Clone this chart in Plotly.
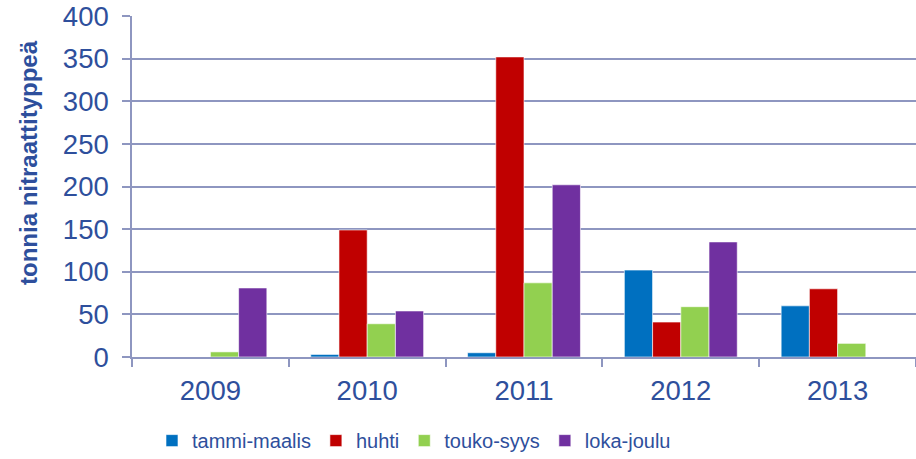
import plotly.graph_objects as go

years = ["2009", "2010", "2011", "2012", "2013"]
series_names = ["tammi-maalis", "huhti", "touko-syys", "loka-joulu"]
tammi_maalis = [0, 3, 5, 102, 60]
huhti = [0, 149, 352, 41, 80]
touko_syys = [6, 39, 87, 59, 16]
loka_joulu = [81, 54, 202, 135, 0]
colors = ["#0070C0", "#C00000", "#92D050", "#7030A0"]
y_ticks = [0, 50, 100, 150, 200, 250, 300, 350, 400]
y_title = "tonnia nitraattityppeä"

text_color = "#2E4F9C"
grid_color = "#8E96C0"

L, T, R, B = 132, 16, 0, 102
W, H = 916, 459
pw, ph = W - L - R, H - T - B

fig = go.Figure()
for name, vals, col in zip(series_names, [tammi_maalis, huhti, touko_syys, loka_joulu], colors):
    fig.add_trace(go.Bar(
        x=years, y=vals, name=name,
        marker=dict(color=col, line=dict(color="rgba(255,255,255,0.6)", width=1)),
    ))

fig.update_layout(
    width=W, height=H,
    barmode="group", bargap=0.28, bargroupgap=0,
    plot_bgcolor="white", paper_bgcolor="white",
    margin=dict(l=L, r=R, t=T, b=B, autoexpand=False),
    font=dict(family="Liberation Sans, Arial, sans-serif", color=text_color, size=20),
    legend=dict(orientation="h", x=0.0255, xanchor="left", y=-0.188, yanchor="top",
                font=dict(size=20, color=text_color), itemwidth=30,
                traceorder="normal"),
    showlegend=True,
    annotations=[dict(
        text="<b>" + y_title + "</b>", xref="paper", yref="paper",
        x=(29 - L) / pw, y=(357 - 163) / ph,
        xanchor="center", yanchor="middle", textangle=-90, showarrow=False,
        font=dict(size=24, color=text_color),
    )],
)
fig.update_yaxes(
    range=[0, 400], tickvals=y_ticks, showgrid=True, gridcolor=grid_color, gridwidth=1.5,
    showline=True, linecolor=grid_color, linewidth=1.5,
    ticks="outside", ticklen=8, tickcolor=grid_color, tickwidth=1.5,
    tickfont=dict(size=27.5, color=text_color), zeroline=False, automargin=False,
    ticklabelstandoff=8, ticklabeloverflow="allow",
)
fig.update_xaxes(
    showline=True, linecolor=grid_color, linewidth=1.5,
    ticks="outside", ticklen=8, tickcolor=grid_color, tickwidth=1.5, tickson="boundaries",
    tickfont=dict(size=27.5, color=text_color), showgrid=False, automargin=False,
    ticklabelstandoff=8,
)

fig.write_html("out.html", config={"displayModeBar": False},
               post_script="document.body.style.margin='0px';")
